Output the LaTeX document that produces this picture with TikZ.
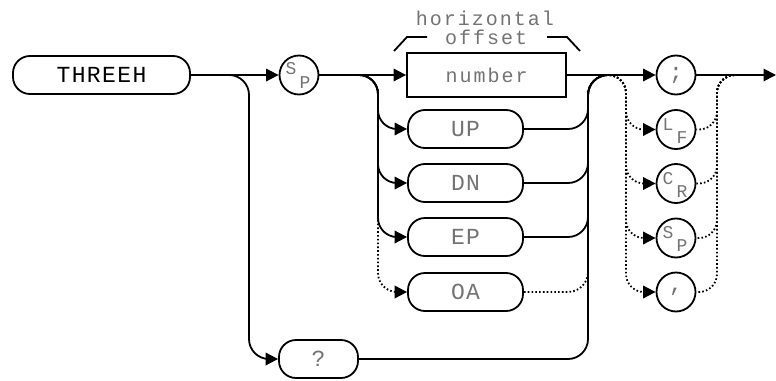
\documentclass[tikz,border=0pt]{standalone}
\usepackage{fontspec}
\newfontfamily\hpfont[LetterSpace=10]{Liberation Mono}
\newfontfamily\hpcap[LetterSpace=6]{Liberation Mono}
\usetikzlibrary{arrows.meta}
\begin{document}
\begin{tikzpicture}[x=1pt,y=-1pt,line width=1.8pt,
  txt/.style={font=\hpfont\fontsize{20}{20}\selectfont,text=black!55},
  captxt/.style={font=\hpcap\fontsize{23}{23}\selectfont,text=black!55},
  rbox/.style={draw,rounded corners=17pt,minimum height=38pt,inner sep=0pt,captxt},
  sqbox/.style={draw,minimum height=44pt,minimum width=159pt,inner sep=0pt,txt},
  circ/.style={draw,circle,minimum size=39pt,inner sep=0pt,captxt},
  small/.style={font=\hpfont\fontsize{18}{18}\selectfont,text=black!55,inner sep=0pt},
  arr/.style={-{Triangle[length=12.5pt,width=12.5pt]}},
  dot/.style={dash pattern=on 1.6pt off 2.2pt}]
\useasboundingbox (0,0) rectangle (776,380);

% nodes
\node[rbox,minimum width=177pt,text=black,font=\hpcap\fontsize{23}{23}\selectfont] (threeh) at (101.5,75) {THREEH};
\node[circ] (sp1) at (299,75) {};
\node[small] (sp1s) at ([shift={(-8,-6)}]sp1.center) {S};
\node[small] (sp1p) at ([shift={(6,8)}]sp1.center) {P};
\node[sqbox] (num) at (486.5,75) {number};
\node[rbox,minimum width=115pt] (up) at (465.5,129) {UP};
\node[rbox,minimum width=115pt] (dn) at (465.5,183) {DN};
\node[rbox,minimum width=115pt] (ep) at (465.5,237) {EP};
\node[rbox,minimum width=115pt] (oa) at (465.5,292) {OA};
\node[rbox,minimum width=79pt] (q) at (318.5,359) {?};
\node[circ] (semi) at (676,75) {;};
\node[circ] (lf) at (676,129.5) {};
\node[small] (lfl) at ([shift={(-8,-5)}]lf.center) {L};
\node[small] (lff) at ([shift={(6,8)}]lf.center) {F};
\node[circ] (cr) at (676,183.5) {};
\node[small] (crc) at ([shift={(-8,-5)}]cr.center) {C};
\node[small] (crr) at ([shift={(6,8)}]cr.center) {R};
\node[circ] (sp2) at (676,238) {};
\node[small] (sp2s) at ([shift={(-8,-5)}]sp2.center) {S};
\node[small] (sp2p) at ([shift={(6,8)}]sp2.center) {P};
\node[circ] (comma) at (676,292) {,};

% label
\node[txt,anchor=base,inner sep=0pt] (lab1) at (485,25) {horizontal};
\node[txt,anchor=base,inner sep=0pt] (lab2) at (486,44) {offset};
\draw (394,51) -- (407,37) -- (427,37);
\draw (547,37) -- (567,37) -- (580,51);

% coordinates
\coordinate (end) at (776,75);

% connectors
\draw[arr] (threeh.east) -- (sp1.west);
\draw[arr,rounded corners=20pt] (threeh.east) -- (249,75) -- (249,359) -- (q.west);
\draw[arr] (sp1.east) -- (num.west);
\draw[arr,rounded corners=19pt] (sp1.east) -- (378,75) -- (378,129) -- (up.west);
\draw[arr,rounded corners=19pt] (sp1.east) -- (378,75) -- (378,183) -- (dn.west);
\draw[arr,rounded corners=19pt] (sp1.east) -- (378,75) -- (378,237) -- (ep.west);
\draw[arr,dot,rounded corners=19pt] (378,216) -- (378,292) -- (oa.west);

\draw[rounded corners=20pt] (up.east) -- (588,129) -- (588,75) -- (615,75);
\draw[rounded corners=20pt] (dn.east) -- (588,183) -- (588,75) -- (615,75);
\draw[rounded corners=20pt] (ep.east) -- (588,237) -- (588,75) -- (615,75);
\draw[rounded corners=20pt] (q.east) -- (588,359) -- (588,75) -- (615,75);
\draw[dot,rounded corners=20pt] (oa.east) -- (588,292) -- (588,262);

\draw[arr] (num.east) -- (semi.west);
\draw[arr,dot,rounded corners=18pt] (606,75) -- (626,75) -- (626,129.5) -- (lf.west);
\draw[arr,dot,rounded corners=18pt] (606,75) -- (626,75) -- (626,183.5) -- (cr.west);
\draw[arr,dot,rounded corners=18pt] (606,75) -- (626,75) -- (626,238) -- (sp2.west);
\draw[arr,dot,rounded corners=18pt] (606,75) -- (626,75) -- (626,292) -- (comma.west);
\draw[dot,rounded corners=18pt] (738,75) -- (717,75) -- (717,129.5) -- (lf.east);
\draw[dot,rounded corners=18pt] (738,75) -- (717,75) -- (717,183.5) -- (cr.east);
\draw[dot,rounded corners=18pt] (738,75) -- (717,75) -- (717,238) -- (sp2.east);
\draw[dot,rounded corners=18pt] (738,75) -- (717,75) -- (717,292) -- (comma.east);
\draw[arr] (semi.east) -- (end);
\end{tikzpicture}
\end{document}
